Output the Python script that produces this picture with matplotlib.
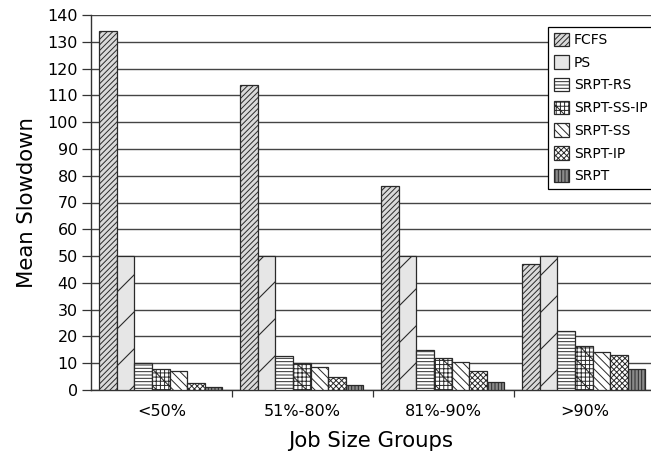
import matplotlib
matplotlib.use("Agg")
import matplotlib.pyplot as plt
import numpy as np

# Job size groups and mean slowdown per scheduling policy
groups = ["<50%", "51%-80%", "81%-90%", ">90%"]
policies = ["FCFS", "PS", "SRPT-RS", "SRPT-SS-IP", "SRPT-SS", "SRPT-IP", "SRPT"]
fcfs = [134, 114, 76, 47]
ps = [50, 50, 50, 50]
srpt_rs = [10, 12.8, 15, 22]
srpt_ss_ip = [8, 10, 12, 16.6]
srpt_ss = [7, 8.6, 10.3, 14.3]
srpt_ip = [2.5, 4.8, 7, 12.9]
srpt = [1.2, 1.9, 2.9, 7.7]

series = [fcfs, ps, srpt_rs, srpt_ss_ip, srpt_ss, srpt_ip, srpt]
faces = ["#dadada", "#e6e6e6", "white", "white", "white", "white", "#8a8a8a"]
hatches = ["//////", None, "-----", "++++\\\\", "\\\\\\\\", "xxxxxx", "|||||"]

plt.rcParams["hatch.linewidth"] = 0.7
plt.rcParams["font.family"] = "DejaVu Sans"

W, H = 651, 458
fig = plt.figure(figsize=(W / 100, H / 100), dpi=100)
ax = fig.add_axes([91 / W, 1 - 390 / H, 560 / W, (390 - 15) / H])

n_groups = len(groups)
bar_w = 0.125
offset = 0.057
g = np.arange(n_groups)

bars = []
for i, (vals, fc, ht, name) in enumerate(zip(series, faces, hatches, policies)):
    x = g + offset + bar_w * (i + 0.5)
    b = ax.bar(x, vals, width=bar_w, color=fc, edgecolor="#2a2a2a",
               linewidth=0.9, hatch=ht, label=name, zorder=3)
    bars.append(b)

ax.set_xlim(0, 560 / 141)
ax.set_ylim(0, 140)
ax.set_yticks(np.arange(0, 141, 10))
ax.yaxis.grid(True, color="#444444", linewidth=1.0, zorder=0)
ax.set_axisbelow(True)

# Group boundaries as major ticks, group names on minor ticks
ax.set_xticks([1, 2, 3])
ax.set_xticklabels([])
ax.set_xticks(g + 0.5, minor=True)
ax.set_xticklabels(groups, minor=True, fontsize=11.5)
ax.tick_params(axis="x", which="major", length=5, width=0.9, color="#333333", direction="out")
ax.tick_params(axis="x", which="minor", length=0, pad=10)
ax.tick_params(axis="y", length=6.5, width=0.9, color="#333333", labelsize=11.5, pad=3)

for s in ["top", "right"]:
    ax.spines[s].set_visible(False)
for s in ["left", "bottom"]:
    ax.spines[s].set_color("#333333")
    ax.spines[s].set_linewidth(1.0)

ax.set_xlabel("Job Size Groups", fontsize=15.3, labelpad=9)
ax.set_ylabel("Mean Slowdown", fontsize=15.3, labelpad=7)

# Sparse diagonal strokes on the PS bars
spacing = 37.0
to_px = ax.transData
to_data = ax.transData.inverted()
for rect in bars[1].patches:
    x0d, y0d = rect.get_xy()
    (x0, y0) = to_px.transform((x0d, y0d))
    (x1, y1) = to_px.transform((x0d + rect.get_width(), y0d + rect.get_height()))
    cmin, cmax = y0 - x1, y1 - x0
    k0 = int(np.floor(cmin / spacing))
    k1 = int(np.ceil(cmax / spacing))
    for k in range(k0, k1 + 1):
        c = k * spacing + 12
        pts = to_data.transform([(x0, x0 + c), (x1, x1 + c)])
        ln, = ax.plot(pts[:, 0], pts[:, 1], color="#2a2a2a", linewidth=0.8, zorder=4)
        ln.set_clip_path(rect)

leg = ax.legend(loc="upper left", bbox_to_anchor=(548 / W, 1 - 27 / H),
                bbox_transform=fig.transFigure, fontsize=10, frameon=True,
                fancybox=False, framealpha=1, edgecolor="black", borderaxespad=0,
                handlelength=1.1, handleheight=1.1, handletextpad=0.35,
                labelspacing=0.6, borderpad=0.4)
leg.get_frame().set_linewidth(0.9)
leg.set_zorder(10)

fig.savefig("out.png", dpi=100)
